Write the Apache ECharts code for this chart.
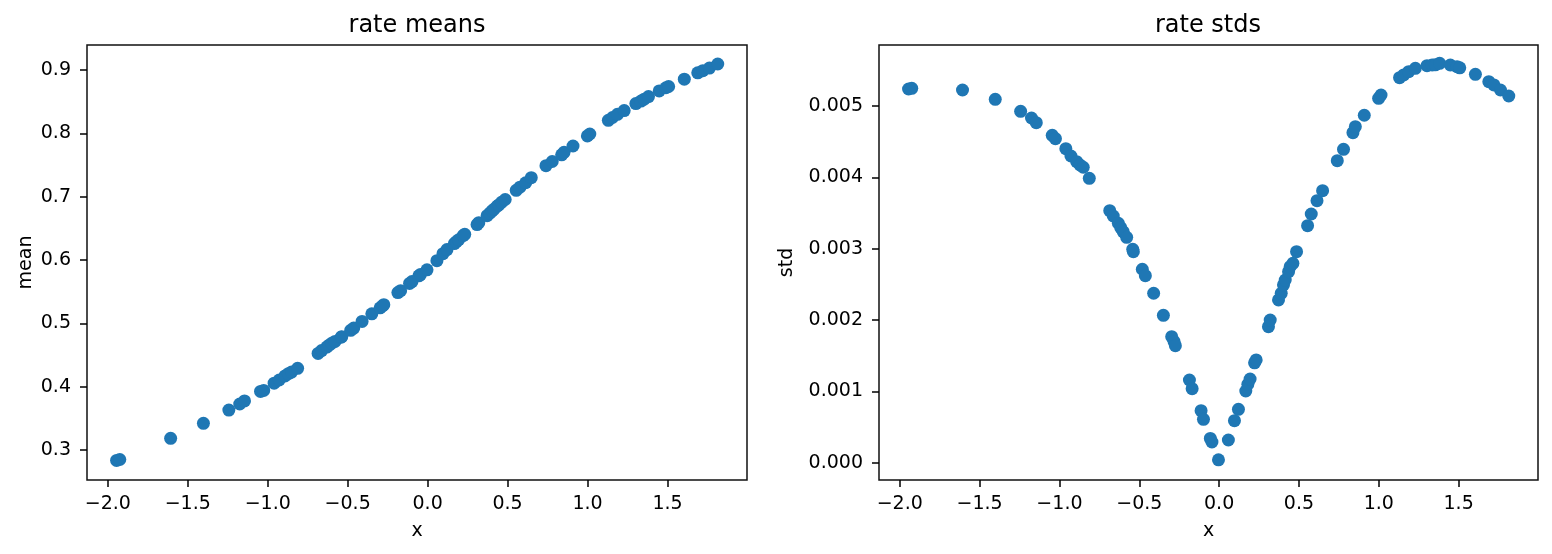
<!DOCTYPE html>
<html><head><meta charset="utf-8">
<script src="https://cdn.jsdelivr.net/npm/echarts@6/dist/echarts.min.js"></script>
<style>html,body{margin:0;padding:0;background:#fff}#c{width:1552px;height:554px}</style>
</head><body><div id="c"></div>
<script>
const xValues = [-1.945,-1.925,-1.607,-1.402,-1.243,-1.175,-1.145,-1.045,-1.025,-0.960,-0.928,-0.892,-0.871,-0.851,-0.813,
  -0.685,-0.663,-0.631,-0.616,-0.600,-0.579,-0.541,-0.537,-0.481,-0.462,-0.410,-0.349,-0.297,-0.282,-0.274,
  -0.186,-0.169,-0.113,-0.098,-0.055,-0.045,-0.004,0.058,0.096,0.121,0.167,0.180,0.194,0.222,0.232,
  0.309,0.320,0.372,0.389,0.403,0.414,0.435,0.445,0.462,0.485,0.554,0.577,0.613,0.648,0.740,
  0.779,0.838,0.853,0.909,0.999,1.014,1.130,1.156,1.187,1.229,1.302,1.334,1.354,1.381,1.448,
  1.490,1.507,1.605,1.689,1.721,1.762,1.814];
const meanValues = [0.2835,0.2850,0.3184,0.3421,0.3630,0.3726,0.3775,0.3925,0.3940,0.4055,0.4105,0.4170,0.4205,0.4230,0.4290,
  0.4525,0.4570,0.4625,0.4655,0.4685,0.4715,0.4780,0.4790,0.4890,0.4925,0.5030,0.5150,0.5245,0.5275,0.5295,
  0.5485,0.5515,0.5630,0.5660,0.5750,0.5770,0.5845,0.5990,0.6100,0.6165,0.6260,0.6290,0.6320,0.6385,0.6405,
  0.6560,0.6590,0.6700,0.6740,0.6775,0.6800,0.6850,0.6870,0.6910,0.6955,0.7100,0.7150,0.7220,0.7300,0.7490,
  0.7555,0.7660,0.7700,0.7800,0.7960,0.7990,0.8205,0.8250,0.8300,0.8360,0.8470,0.8510,0.8540,0.8580,0.8670,
  0.8720,0.8740,0.8855,0.8955,0.8990,0.9030,0.9095];
const stdValues = [0.005238,0.005248,0.005224,0.005094,0.004925,0.004832,0.004766,0.004589,0.004542,0.004402,0.004299,0.004219,0.004173,0.004141,0.003986,
  0.003532,0.003458,0.003356,0.003294,0.003234,0.003159,0.002991,0.002958,0.002711,0.002622,0.002375,0.002066,0.001766,0.001696,0.001640,
  0.001159,0.001037,0.000729,0.000608,0.000340,0.000290,0.000040,0.000318,0.000589,0.000748,0.001005,0.001099,0.001173,0.001400,0.001440,
  0.001907,0.002000,0.002281,0.002374,0.002491,0.002561,0.002677,0.002747,0.002795,0.002958,0.003322,0.003486,0.003673,0.003813,0.004233,
  0.004393,0.004626,0.004710,0.004870,0.005108,0.005154,0.005397,0.005435,0.005481,0.005528,0.005565,0.005575,0.005577,0.005598,0.005575,
  0.005551,0.005535,0.005444,0.005341,0.005295,0.005224,0.005140];
const xTicks = [-2.0,-1.5,-1.0,-0.5,0.0,0.5,1.0,1.5];
const meanTicks = [0.3,0.4,0.5,0.6,0.7,0.8,0.9];
const stdTicks = [0.000,0.001,0.002,0.003,0.004,0.005];
const titles = ['rate means','rate stds'];
const yNames = ['mean','std'];
const xName = 'x';

const FONT = 'DejaVu Sans';
const TICK_FS = 19;
const fmtX = v => (v < 0 ? '\u2212' : '') + Math.abs(v).toFixed(1);
const meanPts = xValues.map((x, i) => [x, meanValues[i]]);
const stdPts = xValues.map((x, i) => [x, stdValues[i]]);

function xAxis(gi) {
  return {
    type: 'value', gridIndex: gi, min: -2.13, max: 1.997,
    name: xName, nameLocation: 'middle', nameGap: 42,
    nameTextStyle: {fontFamily: FONT, fontSize: TICK_FS, color: '#000'},
    axisLine: {show: false, onZero: false},
    axisTick: {show: true, length: 7, customValues: xTicks, lineStyle: {color: '#000', width: 1.5}},
    axisLabel: {customValues: xTicks, margin: 15, formatter: fmtX, fontFamily: FONT, fontSize: TICK_FS, color: '#000'},
    splitLine: {show: false}
  };
}
function yAxis(gi, min, max, ticks, dec, gap) {
  return {
    type: 'value', gridIndex: gi, min: min, max: max,
    name: yNames[gi], nameLocation: 'middle', nameGap: gap,
    nameTextStyle: {fontFamily: FONT, fontSize: TICK_FS, color: '#000'},
    axisLine: {show: false, onZero: false},
    axisTick: {show: true, length: 7, customValues: ticks, lineStyle: {color: '#000', width: 1.5}},
    axisLabel: {customValues: ticks, margin: 16, formatter: v => v.toFixed(dec), fontFamily: FONT, fontSize: TICK_FS, color: '#000'},
    splitLine: {show: false}
  };
}

const chart = echarts.init(document.getElementById('c'), null, {renderer: 'canvas'});
chart.setOption({
  animation: false,
  backgroundColor: '#fff',
  title: [
    {text: titles[0], left: 417, top: 14, textAlign: 'center', padding: 0,
     textStyle: {fontFamily: FONT, fontSize: 24, fontWeight: 'normal', color: '#000'}},
    {text: titles[1], left: 1208, top: 14, textAlign: 'center', padding: 0,
     textStyle: {fontFamily: FONT, fontSize: 24, fontWeight: 'normal', color: '#000'}}
  ],
  grid: [
    {left: 87, top: 45, width: 660, height: 435, show: true, borderColor: '#111', borderWidth: 1.5, backgroundColor: 'transparent'},
    {left: 879, top: 45, width: 659, height: 435, show: true, borderColor: '#111', borderWidth: 1.5, backgroundColor: 'transparent'}
  ],
  xAxis: [xAxis(0), xAxis(1)],
  yAxis: [
    yAxis(0, 0.2526, 0.9395, meanTicks, 1, 51),
    yAxis(1, -0.000243, 0.005855, stdTicks, 3, 82)
  ],
  series: [
    {type: 'scatter', xAxisIndex: 0, yAxisIndex: 0, data: meanPts, symbol: 'circle', symbolSize: 13,
     itemStyle: {color: '#1f77b4', opacity: 1}},
    {type: 'scatter', xAxisIndex: 1, yAxisIndex: 1, data: stdPts, symbol: 'circle', symbolSize: 13,
     itemStyle: {color: '#1f77b4', opacity: 1}}
  ]
});
</script>
</body></html>
